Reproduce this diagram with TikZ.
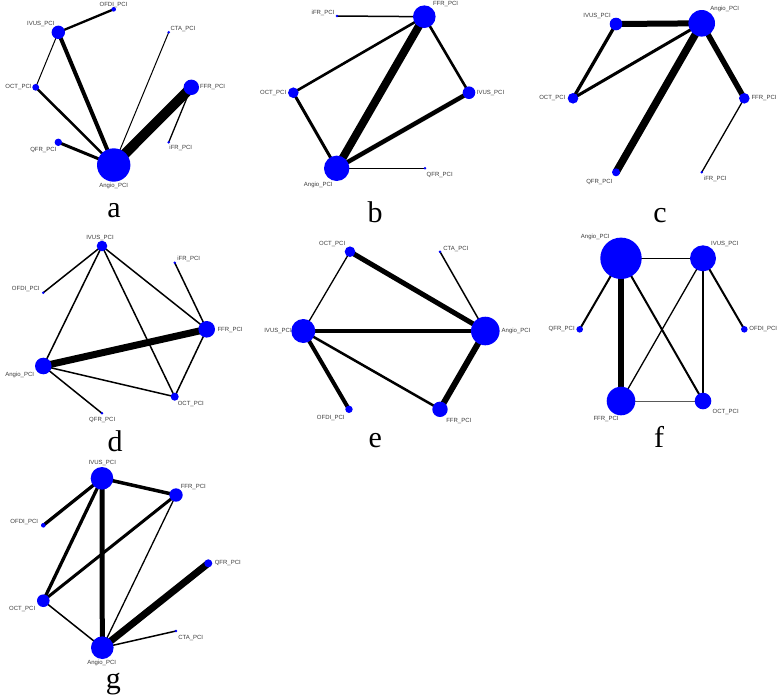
\documentclass[tikz,border=0pt]{standalone}
\usepackage{fontspec}
\setmainfont{Liberation Serif}
\newfontfamily\lblfont{Liberation Sans}
\definecolor{netblue}{HTML}{0000FF}
\definecolor{lbltext}{HTML}{3A3A3A}
\pgfdeclarelayer{edgelayer}
\pgfsetlayers{edgelayer,main}
\tikzset{
  dot/.style={circle, fill=netblue, draw=none, inner sep=0pt, minimum size=#1},
  lbl/.style={font=\lblfont\fontsize{6}{6}\selectfont, text=lbltext, inner sep=0pt},
  panel/.style={font=\fontsize{30}{30}\selectfont, anchor=base, inner sep=0pt},
  ew/.style={line width=#1pt, draw=black},
}
\newcommand\nd[4]{\node[dot={2*#4pt}] (#1) at (#2,#3) {};}
\newcommand\lb[4]{\node[lbl] (#1) at (#2,#3) {#4};}
\begin{document}
\begin{tikzpicture}[x=1pt,y=-1pt]
\useasboundingbox (0,0) rectangle (779,694);
%% ---------- panel a ----------
\nd{a-ofdi}{113.7}{9.3}{2.3}
\nd{a-ivus}{58.3}{32.3}{6.7}
\nd{a-cta}{168.7}{32.3}{1.4}
\nd{a-oct}{35.7}{87.3}{3.4}
\nd{a-ffr}{191.3}{87.3}{7.7}
\nd{a-qfr}{58.3}{142.3}{3.7}
\nd{a-ifr}{168.7}{142.3}{1.4}
\nd{a-angio}{113.7}{165}{16.7}
\lb{a-ofdi-l}{113.5}{4.7}{OFDI\_PCI}
\lb{a-ivus-l}{40.8}{24.3}{IVUS\_PCI}
\lb{a-cta-l}{183}{29.3}{CTA\_PCI}
\lb{a-oct-l}{18.5}{87.3}{OCT\_PCI}
\lb{a-ffr-l}{212.5}{87.3}{FFR\_PCI}
\lb{a-qfr-l}{43.3}{150}{QFR\_PCI}
\lb{a-ifr-l}{180.8}{147.7}{iFR\_PCI}
\lb{a-angio-l}{113.7}{186}{Angio\_PCI}
\node[panel] (la) at (114,217.3) {a};
%% ---------- panel b ----------
\nd{b-ffr}{424.3}{16.7}{11.3}
\nd{b-ifr}{337}{16}{1.4}
\nd{b-oct}{293.3}{92.7}{5.3}
\nd{b-ivus}{469}{92.7}{6.3}
\nd{b-angio}{336.7}{168.3}{12.7}
\nd{b-qfr}{425}{168.3}{1.4}
\lb{b-ffr-l}{445.5}{4}{FFR\_PCI}
\lb{b-ifr-l}{323}{12.7}{iFR\_PCI}
\lb{b-oct-l}{273.2}{92.7}{OCT\_PCI}
\lb{b-ivus-l}{490.5}{92.7}{IVUS\_PCI}
\lb{b-angio-l}{318.3}{185}{Angio\_PCI}
\lb{b-qfr-l}{439.7}{175}{QFR\_PCI}
\node[panel] (lb) at (375,222.7) {b};
%% ---------- panel c ----------
\nd{c-angio}{701.7}{23.3}{13.3}
\nd{c-ivus}{616}{24}{6.3}
\nd{c-oct}{573}{98.3}{5.3}
\nd{c-ffr}{744.3}{98.3}{5.3}
\nd{c-qfr}{616}{172.3}{4}
\nd{c-ifr}{701.7}{172.3}{1.4}
\lb{c-angio-l}{724.8}{9.3}{Angio\_PCI}
\lb{c-ivus-l}{597}{15.7}{IVUS\_PCI}
\lb{c-oct-l}{552.3}{98.3}{OCT\_PCI}
\lb{c-ffr-l}{764}{98.3}{FFR\_PCI}
\lb{c-qfr-l}{599.3}{181.7}{QFR\_PCI}
\lb{c-ifr-l}{715.3}{179}{iFR\_PCI}
\node[panel] (lc) at (660,222.7) {c};
%% ---------- panel d ----------
\nd{d-ivus}{102}{246}{5.3}
\nd{d-ifr}{174.7}{262.7}{1.4}
\nd{d-ofdi}{43.3}{292.7}{1.4}
\nd{d-ffr}{206.7}{329.3}{8.3}
\nd{d-angio}{43.3}{366}{8.3}
\nd{d-oct}{174.7}{396.7}{4}
\nd{d-qfr}{102}{413.3}{1.4}
\lb{d-ivus-l}{100}{238.3}{IVUS\_PCI}
\lb{d-ifr-l}{188.7}{259.3}{iFR\_PCI}
\lb{d-ofdi-l}{25.8}{289.3}{OFDI\_PCI}
\lb{d-ffr-l}{230}{330}{FFR\_PCI}
\lb{d-angio-l}{19.7}{375}{Angio\_PCI}
\lb{d-oct-l}{190.8}{404.3}{OCT\_PCI}
\lb{d-qfr-l}{102.2}{419.5}{QFR\_PCI}
\node[panel] (ld) at (115,451.7) {d};
%% ---------- panel e ----------
\nd{e-oct}{350}{251.7}{5.3}
\nd{e-cta}{440}{251.7}{1.4}
\nd{e-ivus}{303.3}{331}{12}
\nd{e-angio}{485.3}{331}{14.3}
\nd{e-ofdi}{349}{409.3}{3.7}
\nd{e-ffr}{440}{409.3}{7.7}
\lb{e-oct-l}{332.2}{244}{OCT\_PCI}
\lb{e-cta-l}{455.8}{249.3}{CTA\_PCI}
\lb{e-ivus-l}{278}{331}{IVUS\_PCI}
\lb{e-angio-l}{516}{331}{Angio\_PCI}
\lb{e-ofdi-l}{330.8}{418.3}{OFDI\_PCI}
\lb{e-ffr-l}{458.8}{420.7}{FFR\_PCI}
\node[panel] (le) at (375.3,447.3) {e};
%% ---------- panel f ----------
\nd{f-angio}{621}{258.3}{20.7}
\nd{f-ivus}{703}{258.3}{13}
\nd{f-qfr}{579.7}{329.3}{3.3}
\nd{f-ofdi}{744.3}{329.3}{3.3}
\nd{f-ffr}{621}{401}{14.3}
\nd{f-oct}{703}{401}{8.3}
\lb{f-angio-l}{595.3}{236.7}{Angio\_PCI}
\lb{f-ivus-l}{724.8}{244}{IVUS\_PCI}
\lb{f-qfr-l}{561.7}{329.3}{QFR\_PCI}
\lb{f-ofdi-l}{763.2}{329.3}{OFDI\_PCI}
\lb{f-ffr-l}{606}{418.5}{FFR\_PCI}
\lb{f-oct-l}{725.7}{412.3}{OCT\_PCI}
\node[panel] (lf) at (659,447) {f};
%% ---------- panel g ----------
\nd{g-ivus}{102}{478.3}{11.3}
\nd{g-ffr}{176}{495}{6.7}
\nd{g-ofdi}{43.3}{525.3}{2.3}
\nd{g-qfr}{208.3}{563.3}{4}
\nd{g-oct}{43.3}{600.7}{6.3}
\nd{g-cta}{176}{631}{1.4}
\nd{g-angio}{102.3}{647.7}{11.3}
\lb{g-ivus-l}{102.3}{463.3}{IVUS\_PCI}
\lb{g-ffr-l}{193.3}{486.7}{FFR\_PCI}
\lb{g-ofdi-l}{24.3}{521.7}{OFDI\_PCI}
\lb{g-qfr-l}{227.8}{563.3}{QFR\_PCI}
\lb{g-oct-l}{22.2}{609}{OCT\_PCI}
\lb{g-cta-l}{190.7}{637.7}{CTA\_PCI}
\lb{g-angio-l}{101.7}{662.8}{Angio\_PCI}
\node[panel] (lg) at (113.3,688) {g};
%% ---------- edges ----------
\begin{pgfonlayer}{edgelayer}
% a
\draw[ew=2.3] (a-ivus.center) -- (a-ofdi.center);
\draw[ew=1] (a-ivus.center) -- (a-oct.center);
\draw[ew=4] (a-ivus.center) -- (a-angio.center);
\draw[ew=2.5] (a-oct.center) -- (a-angio.center);
\draw[ew=1] (a-cta.center) -- (a-angio.center);
\draw[ew=10] (a-ffr.center) -- (a-angio.center);
\draw[ew=1.3] (a-ffr.center) -- (a-ifr.center);
\draw[ew=3] (a-qfr.center) -- (a-angio.center);
% b
\draw[ew=1.5] (b-ifr.center) -- (b-ffr.center);
\draw[ew=2.6] (b-ffr.center) -- (b-oct.center);
\draw[ew=8] (b-ffr.center) -- (b-angio.center);
\draw[ew=2.6] (b-ffr.center) -- (b-ivus.center);
\draw[ew=3] (b-oct.center) -- (b-angio.center);
\draw[ew=4.5] (b-ivus.center) -- (b-angio.center);
\draw[ew=1.5] (b-angio.center) -- (b-qfr.center);
% c
\draw[ew=6] (c-ivus.center) -- (c-angio.center);
\draw[ew=3.3] (c-ivus.center) -- (c-oct.center);
\draw[ew=3] (c-oct.center) -- (c-angio.center);
\draw[ew=7.5] (c-angio.center) -- (c-qfr.center);
\draw[ew=5.5] (c-angio.center) -- (c-ffr.center);
\draw[ew=1.3] (c-ffr.center) -- (c-ifr.center);
% d
\draw[ew=1.5] (d-ivus.center) -- (d-ofdi.center);
\draw[ew=1.5] (d-ivus.center) -- (d-angio.center);
\draw[ew=1.5] (d-ivus.center) -- (d-oct.center);
\draw[ew=1.5] (d-ivus.center) -- (d-ffr.center);
\draw[ew=1.5] (d-ifr.center) -- (d-ffr.center);
\draw[ew=7] (d-ffr.center) -- (d-angio.center);
\draw[ew=1.5] (d-ffr.center) -- (d-oct.center);
\draw[ew=1.5] (d-angio.center) -- (d-oct.center);
\draw[ew=1.5] (d-angio.center) -- (d-qfr.center);
% e
\draw[ew=1.3] (e-oct.center) -- (e-ivus.center);
\draw[ew=5] (e-oct.center) -- (e-angio.center);
\draw[ew=1.5] (e-cta.center) -- (e-angio.center);
\draw[ew=4.5] (e-ivus.center) -- (e-angio.center);
\draw[ew=4] (e-ivus.center) -- (e-ofdi.center);
\draw[ew=2.5] (e-ivus.center) -- (e-ffr.center);
\draw[ew=6] (e-angio.center) -- (e-ffr.center);
% f
\draw[ew=1.5] (f-angio.center) -- (f-ivus.center);
\draw[ew=2] (f-angio.center) -- (f-qfr.center);
\draw[ew=6] (f-angio.center) -- (f-ffr.center);
\draw[ew=2] (f-angio.center) -- (f-oct.center);
\draw[ew=1.3] (f-ivus.center) -- (f-ffr.center);
\draw[ew=1.5] (f-ivus.center) -- (f-oct.center);
\draw[ew=2] (f-ivus.center) -- (f-ofdi.center);
\draw[ew=1, draw=black!65] (f-ffr.center) -- (f-oct.center);
% g
\draw[ew=3.5] (g-ivus.center) -- (g-ffr.center);
\draw[ew=3.3] (g-ivus.center) -- (g-ofdi.center);
\draw[ew=3.3] (g-ivus.center) -- (g-oct.center);
\draw[ew=5] (g-ivus.center) -- (g-angio.center);
\draw[ew=3] (g-ffr.center) -- (g-oct.center);
\draw[ew=1.3] (g-ffr.center) -- (g-angio.center);
\draw[ew=1.5] (g-oct.center) -- (g-angio.center);
\draw[ew=7] (g-angio.center) -- (g-qfr.center);
\draw[ew=1.5] (g-angio.center) -- (g-cta.center);
\end{pgfonlayer}
\end{tikzpicture}
\end{document}
